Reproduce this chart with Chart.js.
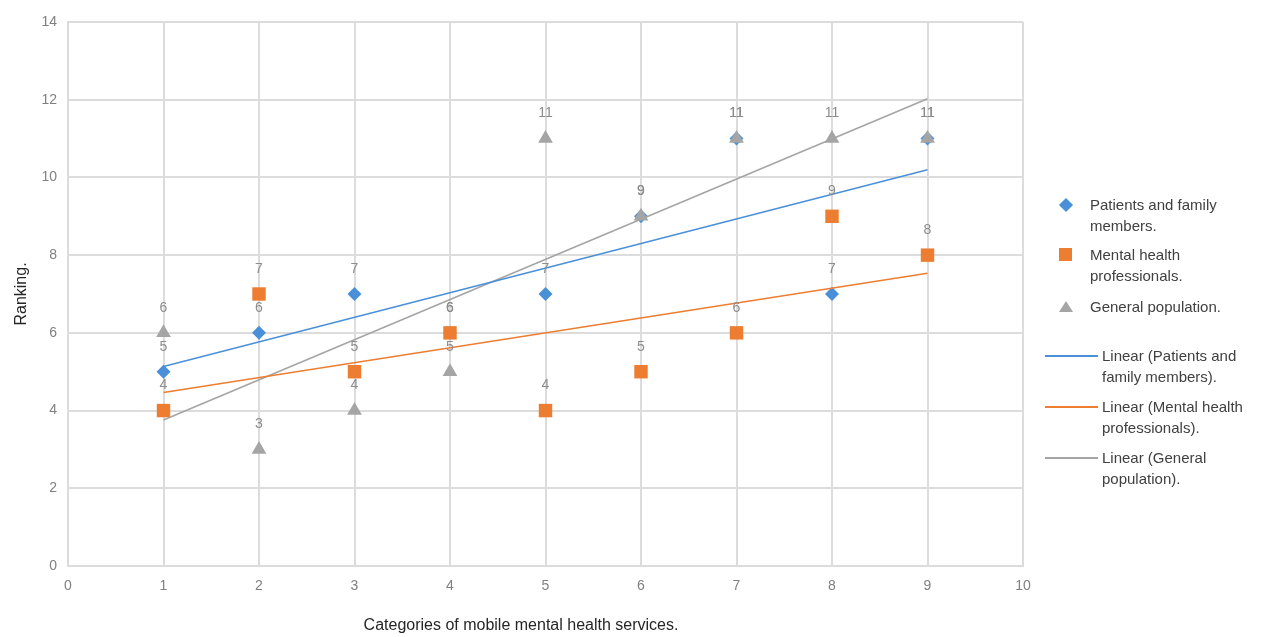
<!DOCTYPE html>
<html>
<head>
<meta charset="utf-8">
<title>Ranking of mobile mental health services</title>
<script src="https://cdn.jsdelivr.net/npm/chart.js@4.4.1/dist/chart.umd.min.js"></script>
<style>
  body { margin: 0; background: #fff; font-family: "Liberation Sans", Arial, sans-serif; }
  #wrap { position: relative; width: 1266px; height: 637px; }
  #legend { position: absolute; left: 1040px; top: 0; color: #404040; font-size: 15px; line-height: 21px; }
  .item { position: absolute; white-space: nowrap; }
  .mark { position: absolute; }
  .x-title { position: absolute; top: 616px; left: 0; width: 1042px; text-align: center; font-size: 16px; color: #262626; }
</style>
</head>
<body>
<div id="wrap">
  <canvas id="chart" width="1266" height="637"></canvas>
  <div class="x-title">Categories of mobile mental health services.</div>
  <div id="legend"></div>
</div>
<script>
// Chart values
const categories = [1, 2, 3, 4, 5, 6, 7, 8, 9];
const patients = [5, 6, 7, 6, 7, 9, 11, 7, 11];
const professionals = [4, 7, 5, 6, 4, 5, 6, 9, 8];
const generalPop = [6, 3, 4, 5, 11, 9, 11, 11, 11];

const seriesNames = ['Patients and family members.', 'Mental health professionals.', 'General population.'];
const colors = ['#4a90d9', '#ed7d31', '#a5a5a5'];

// Least squares fit, like the spreadsheet's linear trendline
function trendLine(xs, ys) {
  const n = xs.length;
  const mx = xs.reduce((a, b) => a + b, 0) / n;
  const my = ys.reduce((a, b) => a + b, 0) / n;
  let sxy = 0, sxx = 0;
  xs.forEach((x, i) => { sxy += (x - mx) * (ys[i] - my); sxx += (x - mx) * (x - mx); });
  const slope = sxy / sxx;
  const first = xs[0], last = xs[n - 1];
  return [{ x: first, y: my + slope * (first - mx) }, { x: last, y: my + slope * (last - mx) }];
}

function toPoints(ys) {
  return categories.map((c, i) => ({ x: c, y: ys[i] }));
}

// Draws the value above every marker
const valueLabels = {
  id: 'valueLabels',
  afterDatasetsDraw(chart) {
    const ctx = chart.ctx;
    ctx.save();
    ctx.font = '14px "Liberation Sans", Arial, sans-serif';
    ctx.fillStyle = '#8c8c8c';
    ctx.textAlign = 'center';
    ctx.textBaseline = 'middle';
    chart.data.datasets.forEach((ds, i) => {
      if (!ds.showValues) return;
      chart.getDatasetMeta(i).data.forEach((pt, j) => {
        ctx.fillText(String(ds.data[j].y), pt.x, pt.y - 25);
      });
    });
    ctx.restore();
  }
};

const allSeries = [patients, professionals, generalPop];
const pointStyles = ['rectRot', 'rect', 'triangle'];
const pointSizes = [7, 9.5, 8.5];

const datasets = [];
allSeries.forEach((ys, i) => {
  datasets.push({
    type: 'scatter',
    label: seriesNames[i],
    data: toPoints(ys),
    pointStyle: pointStyles[i],
    pointRadius: pointSizes[i],
    pointHoverRadius: pointSizes[i],
    backgroundColor: colors[i],
    borderColor: colors[i],
    borderWidth: 0,
    showValues: true,
    order: 3 - i
  });
});
allSeries.forEach((ys, i) => {
  datasets.push({
    type: 'line',
    label: 'Linear (' + seriesNames[i].replace('.', '') + ').',
    data: trendLine(categories, ys),
    borderColor: colors[i],
    borderWidth: 1.6,
    pointRadius: 0,
    fill: false,
    order: 0
  });
});

new Chart(document.getElementById('chart'), {
  data: { datasets },
  options: {
    responsive: false,
    animation: false,
    layout: { padding: { top: 22, right: 243, left: 0, bottom: 0 } },
    plugins: { legend: { display: false }, tooltip: { enabled: false } },
    scales: {
      x: {
        type: 'linear',
        min: 0, max: 10,
        ticks: { stepSize: 1, color: '#808080', font: { size: 14, family: '"Liberation Sans", Arial' }, padding: 12 },
        grid: { color: '#dcdcdc', lineWidth: 2, drawTicks: false },
        border: { color: '#dcdcdc', width: 2 },
        afterFit(scale) { scale.height = 71; }
      },
      y: {
        min: 0, max: 14,
        ticks: { stepSize: 2, color: '#808080', font: { size: 14, family: '"Liberation Sans", Arial' }, padding: 11 },
        grid: { color: '#dcdcdc', lineWidth: 2, drawTicks: false },
        border: { color: '#dcdcdc', width: 2 },
        title: { display: true, text: 'Ranking.', color: '#262626', font: { size: 16, family: '"Liberation Sans", Arial' }, padding: { top: 12, bottom: 0 } },
        afterFit(scale) { scale.width = 68; }
      }
    }
  },
  plugins: [valueLabels]
});

// Legend drawn in HTML so the names can wrap like the reference
const legend = document.getElementById('legend');
const markerItems = [
  { top: 194, html: 'Patients and family<br>members.' },
  { top: 244, html: 'Mental health<br>professionals.' },
  { top: 296, html: 'General population.' }
];
markerItems.forEach((it, i) => {
  const mark = document.createElement('div');
  mark.className = 'mark';
  if (i === 0) {
    mark.style.cssText = 'left:21px;top:' + (it.top + 6) + 'px;width:10px;height:10px;background:' + colors[0] + ';transform:rotate(45deg);';
  } else if (i === 1) {
    mark.style.cssText = 'left:19px;top:' + (it.top + 4) + 'px;width:13px;height:13px;background:' + colors[1] + ';';
  } else {
    mark.style.cssText = 'left:19px;top:' + (it.top + 5) + 'px;width:0;height:0;border-left:7px solid transparent;border-right:7px solid transparent;border-bottom:11px solid ' + colors[2] + ';';
  }
  legend.appendChild(mark);
  const txt = document.createElement('div');
  txt.className = 'item';
  txt.style.cssText = 'left:50px;top:' + it.top + 'px;';
  txt.innerHTML = it.html;
  legend.appendChild(txt);
});
const lineItems = [
  { top: 345, html: 'Linear (Patients and<br>family members).' },
  { top: 396, html: 'Linear (Mental health<br>professionals).' },
  { top: 447, html: 'Linear (General<br>population).' }
];
lineItems.forEach((it, i) => {
  const mark = document.createElement('div');
  mark.className = 'mark';
  mark.style.cssText = 'left:5px;top:' + (it.top + 10) + 'px;width:53px;height:2px;background:' + colors[i] + ';';
  legend.appendChild(mark);
  const txt = document.createElement('div');
  txt.className = 'item';
  txt.style.cssText = 'left:62px;top:' + it.top + 'px;';
  txt.innerHTML = it.html;
  legend.appendChild(txt);
});
</script>
</body>
</html>
